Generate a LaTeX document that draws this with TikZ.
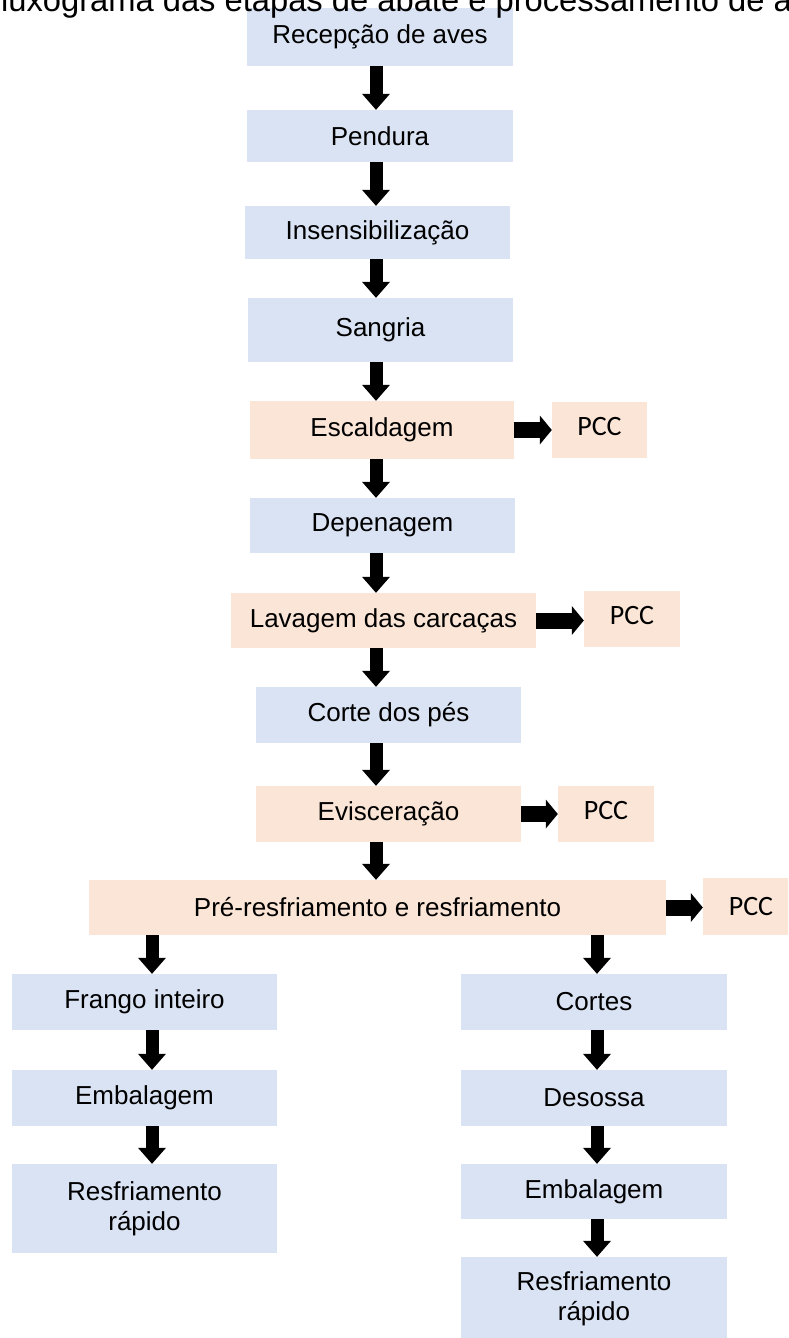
\documentclass[tikz,border=0pt]{standalone}
\usepackage{fontspec}
\setmainfont{Liberation Sans}
\newfontfamily\pccfont{Carlito}
\usetikzlibrary{
  arrows.meta,
}
\definecolor{etapaazul}{HTML}{DAE3F3}
\definecolor{etapalaranja}{HTML}{FBE5D6}
\tikzset{
  etapa/.style={fill=etapaazul, inner sep=0pt, align=center,
    minimum width=265pt, minimum height=56pt,
    font=\fontsize{26}{30}\selectfont},
  critica/.style={etapa, fill=etapalaranja},
  pcc/.style={fill=etapalaranja, inner sep=0pt, minimum width=96pt,
    minimum height=56pt, text depth=8pt, font=\pccfont\fontsize{28}{32}\selectfont},
  desce/.style={line width=13pt,
    -{Triangle[width=28pt, length=16pt, line width=0pt]}},
  avanca/.style={line width=16pt,
    -{Triangle[width=29pt, length=12pt, line width=0pt]}},
}

\begin{document}
\begin{tikzpicture}[x=1pt, y=-1pt]
      \clip (0, 0) rectangle (788, 1338);

      \node [etapa, minimum width=266pt, minimum height=58pt] (recepcao) at (380, 37) {Recepção de aves};
      \node [etapa, minimum width=266pt, minimum height=52pt] (pendura) at (380, 136) {Pendura};
      \node [etapa, minimum height=53pt] (insens) at (377.5, 232.5) {Insensibilização};
      \node [etapa, minimum height=64pt] (sangria) at (380.5, 330) {Sangria};
      \node [critica, minimum width=264pt, minimum height=58pt] (escaldagem) at (382, 430) {Escaldagem};
      \node [etapa, minimum height=55pt] (depenagem) at (382.5, 525.5) {Depenagem};
      \node [critica, minimum width=305pt, minimum height=55pt] (lavagem) at (383.5, 620.5) {Lavagem das carcaças};
      \node [etapa] (cortepes) at (388.5, 715) {Corte dos pés};
      \node [critica] (evisceracao) at (388.5, 814) {Evisceração};
      \node [critica, minimum width=577pt, minimum height=55pt] (prefrio) at (377.5, 907.5) {Pré-resfriamento e resfriamento};

      \node [pcc, minimum width=95pt] (pccA) at (599.5, 430) {PCC};
      \node [pcc] (pccB) at (632, 619) {PCC};
      \node [pcc] (pccC) at (606, 814) {PCC};
      \node [pcc, minimum height=57pt, text depth=0pt] (pccD) at (751, 906.5) {PCC};

      \node [etapa] (frango) at (144.5, 1002) {Frango inteiro};
      \node [etapa] (embalagemA) at (144.5, 1098) {Embalagem};
      \node [etapa, minimum height=89pt] (rapidoA) at (144.5, 1208.5) {Resfriamento\\rápido};

      \node [etapa, minimum width=266pt] (cortes) at (594, 1002) {Cortes};
      \node [etapa, minimum width=266pt] (desossa) at (594, 1098) {Desossa};
      \node [etapa, minimum width=266pt, minimum height=55pt] (embalagemB) at (594, 1191.5) {Embalagem};
      \node [etapa, minimum width=266pt, minimum height=84pt] (rapidoB) at (594, 1299) {Resfriamento\\rápido};

      \node [anchor=base west, inner sep=0pt, font=\fontsize{32.7}{38}\selectfont] (titulo) at (-19, 12) {Fluxograma das etapas de abate e processamento de aves};

      \coordinate (eixo) at (376, 0);
      \coordinate (eixoesq) at (152, 0);
      \coordinate (eixodir) at (597, 0);

      \foreach \a/\b in {recepcao/pendura, pendura/insens, insens/sangria, sangria/escaldagem, escaldagem/depenagem, depenagem/lavagem, lavagem/cortepes, cortepes/evisceracao, evisceracao/prefrio}
      {
        \draw [desce] (\a.south -| eixo) -- (\b.north -| eixo);
      }
      \foreach \a/\b in {prefrio/frango, frango/embalagemA, embalagemA/rapidoA}
      {
        \draw [desce] (\a.south -| eixoesq) -- (\b.north -| eixoesq);
      }
      \foreach \a/\b in {prefrio/cortes, cortes/desossa, desossa/embalagemB, embalagemB/rapidoB}
      {
        \draw [desce] (\a.south -| eixodir) -- (\b.north -| eixodir);
      }

      \draw [avanca] (escaldagem.east) -- (pccA.west);
      \draw [avanca] (lavagem.east) -- (pccB.west |- lavagem.east);
      \draw [avanca] (evisceracao.east) -- (pccC.west);
      \draw [avanca] (prefrio.east) -- (pccD.west |- prefrio.east);
    \end{tikzpicture}
\end{document}
